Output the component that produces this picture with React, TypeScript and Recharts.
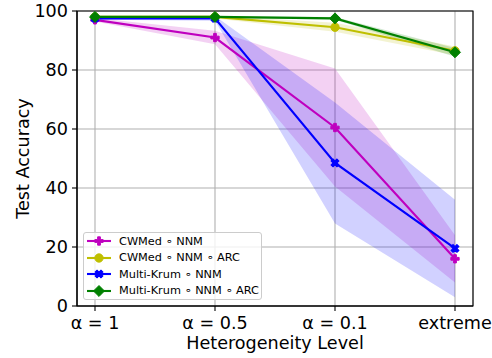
import React from 'react';
import {
  ComposedChart,
  Line,
  Area,
  XAxis,
  YAxis,
  CartesianGrid,
  ReferenceArea,
  Legend,
  Label,
} from 'recharts';

const levels = ['α = 1', 'α = 0.5', 'α = 0.1', 'extreme'];
const yTicks = [0, 20, 40, 60, 80, 100];

const cwMedMean = [97, 91, 60.5, 16];
const cwMedStd = [0.6, 2.3, 20, 8];
const cwMedArcMean = [98, 98, 94.5, 86.5];
const cwMedArcStd = [0.4, 0.5, 1.5, 1.5];
const krumMean = [97.5, 97.5, 48.5, 19.5];
const krumStd = [0.5, 0.8, 20.5, 16.5];
const krumArcMean = [98, 98, 97.5, 86];
const krumArcStd = [0.3, 0.3, 0.5, 1.5];

const FONT = '"DejaVu Sans", sans-serif';
const AXIS_FS = 17.6;

type MarkerKind = 'plus' | 'circle' | 'x' | 'diamond';

const series = [
  { key: 'cw', name: 'CWMed ∘ NNM', color: '#bf00bf', marker: 'plus' as MarkerKind, mean: cwMedMean, std: cwMedStd },
  { key: 'cwArc', name: 'CWMed ∘ NNM ∘ ARC', color: '#bfbf00', marker: 'circle' as MarkerKind, mean: cwMedArcMean, std: cwMedArcStd },
  { key: 'mk', name: 'Multi-Krum ∘ NNM', color: '#0000ff', marker: 'x' as MarkerKind, mean: krumMean, std: krumStd },
  { key: 'mkArc', name: 'Multi-Krum ∘ NNM ∘ ARC', color: '#008000', marker: 'diamond' as MarkerKind, mean: krumArcMean, std: krumArcStd },
];

const rows = levels.map((_, i) => {
  const row: Record<string, any> = { x: i };
  series.forEach((s) => {
    row[s.key] = s.mean[i];
    row[s.key + 'Band'] = [s.mean[i] - s.std[i], s.mean[i] + s.std[i]];
  });
  return row;
});

const plusPts = [
  [-1, -3], [1, -3], [1, -1], [3, -1], [3, 1], [1, 1],
  [1, 3], [-1, 3], [-1, 1], [-3, 1], [-3, -1], [-1, -1],
];

function markerShape(kind: MarkerKind, cx: number, cy: number, color: string, key?: string) {
  const s = 8.3;
  if (kind === 'circle') {
    return <circle key={key} cx={cx} cy={cy} r={s / 2} fill={color} stroke={color} strokeWidth={1} />;
  }
  if (kind === 'diamond') {
    const h = s * 0.66;
    return (
      <polygon
        key={key}
        points={`${cx},${cy - h} ${cx + h},${cy} ${cx},${cy + h} ${cx - h},${cy}`}
        fill={color}
        stroke={color}
        strokeWidth={1}
      />
    );
  }
  const pts = plusPts.map(([a, b]) => `${cx + (a * s) / 6},${cy + (b * s) / 6}`).join(' ');
  return (
    <polygon
      key={key}
      points={pts}
      fill={color}
      stroke={color}
      strokeWidth={1}
      transform={kind === 'x' ? `rotate(45 ${cx} ${cy})` : undefined}
    />
  );
}

const renderLegend = () => (
  <div
    style={{
      border: '1px solid #cccccc',
      borderRadius: 3,
      background: 'rgba(255,255,255,0.8)',
      width: 177,
      height: 66,
      fontFamily: FONT,
      fontSize: 11.3,
      color: '#000',
    }}
  >
    {series.map((s) => (
      <div key={s.key} style={{ display: 'flex', alignItems: 'center', height: 16.5 }}>
        <svg width={24} height={12} style={{ marginLeft: 3, marginRight: 8 }}>
          <line x1={0} y1={6} x2={24} y2={6} stroke={s.color} strokeWidth={2.1} />
          {markerShape(s.marker, 12, 6, s.color)}
        </svg>
        <span>{s.name}</span>
      </div>
    ))}
  </div>
);

const renderYLabel = (props: any) => {
  const vb = props.viewBox;
  const x = vb.x + 22.5;
  const y = vb.y + vb.height / 2;
  return (
    <text
      x={x}
      y={y}
      transform={`rotate(-90 ${x} ${y})`}
      textAnchor="middle"
      dominantBaseline="central"
      fontFamily={FONT}
      fontSize={AXIS_FS}
      fill="#000"
    >
      Test Accuracy
    </text>
  );
};

const renderXLabel = (props: any) => {
  const vb = props.viewBox;
  return (
    <text
      x={vb.x + vb.width / 2}
      y={vb.y + 37}
      textAnchor="middle"
      dominantBaseline="central"
      fontFamily={FONT}
      fontSize={AXIS_FS}
      fill="#000"
    >
      Heterogeneity Level
    </text>
  );
};

export default function App() {
  return (
    <div style={{ position: 'absolute', left: 0, top: 0, width: 492, height: 358, background: '#fff' }}>
      <ComposedChart width={492} height={358} data={rows} margin={{ top: 11, right: 19, bottom: 0, left: 0 }}>
        <CartesianGrid stroke="#b0b0b0" strokeWidth={1.1} />
        <XAxis
          dataKey="x"
          type="number"
          domain={[-0.15, 3.15]}
          ticks={[0, 1, 2, 3]}
          allowDataOverflow
          tickFormatter={(v: number) => levels[v]}
          height={52}
          tickSize={5}
          tickMargin={5.5}
          interval={0}
          axisLine={{ stroke: '#000', strokeWidth: 1.1 }}
          tickLine={{ stroke: '#000', strokeWidth: 1.1 }}
          tick={{ fill: '#000', fontSize: AXIS_FS, fontFamily: FONT }}
        >
          <Label content={renderXLabel} />
        </XAxis>
        <YAxis
          type="number"
          domain={[0, 100]}
          ticks={yTicks}
          width={77}
          tickSize={5}
          tickMargin={4}
          interval={0}
          axisLine={{ stroke: '#000', strokeWidth: 1.1 }}
          tickLine={{ stroke: '#000', strokeWidth: 1.1 }}
          tick={{ fill: '#000', fontSize: AXIS_FS, fontFamily: FONT }}
        >
          <Label content={renderYLabel} />
        </YAxis>
        {series.map((s) => (
          <Area
            key={s.key + 'Band'}
            dataKey={s.key + 'Band'}
            type="linear"
            stroke="none"
            fill={s.color}
            fillOpacity={0.18}
            isAnimationActive={false}
            activeDot={false}
            dot={false}
          />
        ))}
        {series.map((s) => (
          <Line
            key={s.key}
            dataKey={s.key}
            name={s.name}
            type="linear"
            stroke={s.color}
            strokeWidth={2.1}
            isAnimationActive={false}
            activeDot={false}
            dot={(p: any) => markerShape(s.marker, p.cx, p.cy, s.color, `${s.key}-dot-${p.index}`)}
          />
        ))}
        <ReferenceArea
          x1={-0.15}
          x2={3.15}
          y1={0}
          y2={100}
          fill="none"
          stroke="#000"
          strokeWidth={1.1}
          ifOverflow="visible"
        />
        <Legend
          layout="horizontal"
          align="center"
          verticalAlign="middle"
          content={renderLegend}
          wrapperStyle={{ left: 83, top: 232, width: 179, height: 68 }}
        />
      </ComposedChart>
    </div>
  );
}
